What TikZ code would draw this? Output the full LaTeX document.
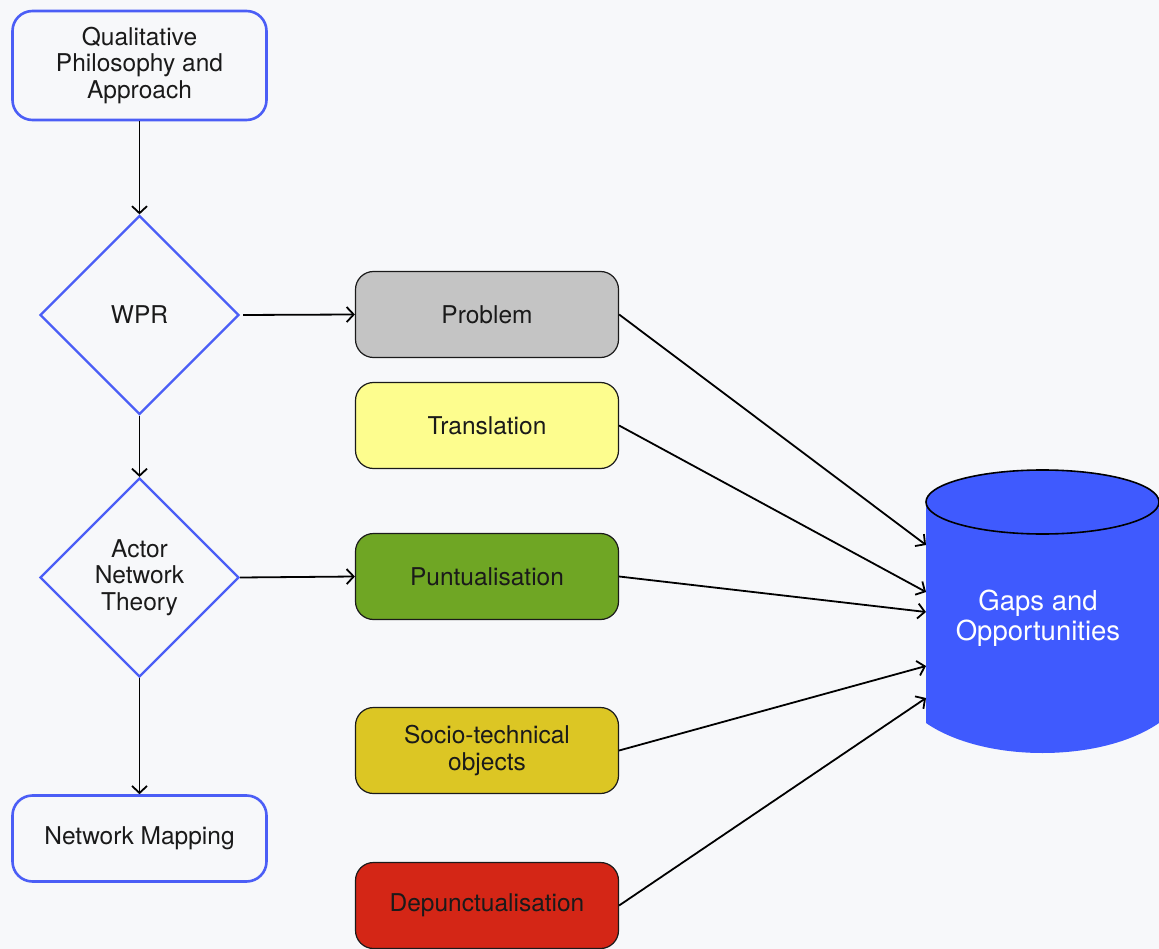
\documentclass[tikz,border=0pt]{standalone}
\usepackage{fontspec}
\setmainfont{TeX Gyre Heros}
\usetikzlibrary{shapes.geometric,arrows.meta}
\definecolor{bg}{HTML}{F7F8FA}
\definecolor{flowblue}{HTML}{4B5EF6}
\definecolor{cylblue}{HTML}{3F5AFE}
\definecolor{cgray}{HTML}{C4C4C4}
\definecolor{cyellow}{HTML}{FDFD8E}
\definecolor{cgreen}{HTML}{6FA624}
\definecolor{cmustard}{HTML}{DCC624}
\definecolor{cred}{HTML}{D42616}
\definecolor{ink}{HTML}{1A1A1A}
\tikzset{
  lbl/.style={font=\fontsize{24.5}{26.5}\selectfont, text=ink, align=center},
  flowbox/.style={lbl, rectangle, rounded corners=20pt, draw=flowblue, line width=2.6pt, fill=bg, minimum width=254pt, inner sep=0pt},
  diam/.style={lbl, diamond, draw=flowblue, line width=2.2pt, fill=bg, minimum width=199pt, minimum height=199pt, inner sep=0pt},
  cbox/.style={lbl, rectangle, rounded corners=18pt, draw=ink, line width=1.2pt, minimum width=263pt, minimum height=86pt, inner sep=0pt},
  conn/.style={draw=black, line width=1.8pt, -{Straight Barb[length=7pt,width=15pt,line width=1.8pt]}},
}
\begin{document}
\begin{tikzpicture}[x=1pt,y=-1pt]
\useasboundingbox[fill=bg] (0,0) rectangle (1159,949);
% left column
\node[flowbox, minimum height=109pt] (qual) at (139.5,65.5) {Qualitative\\Philosophy and\\Approach};
\node[diam] (wpr) at (139.5,315) {WPR};
\node[diam] (ant) at (139.5,577.5) {Actor\\Network\\Theory};
\node[flowbox, minimum height=86pt] (nm) at (139.5,838.5) {Network Mapping};
% middle column
\node[cbox, fill=cgray] (prob) at (487,314.5) {Problem};
\node[cbox, fill=cyellow] (trans) at (487,425.5) {Translation};
\node[cbox, fill=cgreen] (punt) at (487,576.5) {Puntualisation};
\node[cbox, fill=cmustard] (socio) at (487,750.5) {Socio-technical\\objects};
\node[cbox, fill=cred] (dep) at (487,905.5) {Depunctualisation};
% cylinder
\fill[cylblue] (926,502) -- (926,723) .. controls (984,763) and (1101,763) .. (1159,723) -- (1159,502) -- cycle;
\filldraw[fill=cylblue, draw=black, line width=1.6pt] (1042.5,502) ellipse[x radius=116.5, y radius=32];
\node[lbl, font=\fontsize{27.5}{29.5}\selectfont, text=white] (gaps) at (1038,618) {Gaps and\\Opportunities};
\coordinate (g1) at (926,545);
\coordinate (g2) at (926,592);
\coordinate (g3) at (926,612);
\coordinate (g4) at (926,666);
\coordinate (g5) at (926,698);
% connectors
\draw[conn] (qual.south) -- (wpr.north);
\draw[conn] (wpr.south) -- (ant.north);
\draw[conn] (ant.south) -- (nm.north);
\draw[conn, shorten <=3pt] (wpr.east) -- (prob.west);
\draw[conn] (ant.east) -- (punt.west);
\draw[conn] (prob.east) -- (g1);
\draw[conn] (trans.east) -- (g2);
\draw[conn] (punt.east) -- (g3);
\draw[conn] (socio.east) -- (g4);
\draw[conn] (dep.east) -- (g5);
\end{tikzpicture}
\end{document}
